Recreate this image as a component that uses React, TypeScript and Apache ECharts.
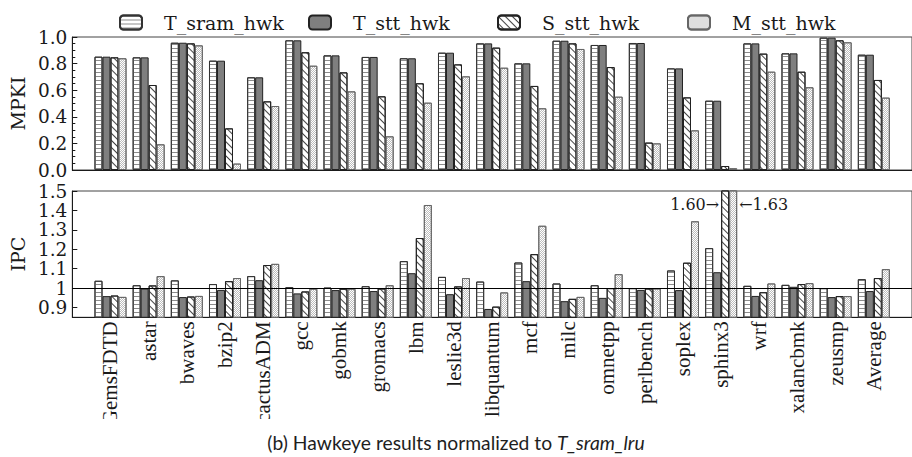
import React, { useEffect, useRef } from 'react';
import * as echarts from 'echarts';

// Benchmarks along the x axis (SPEC CPU2006 + average)
const benchmarks = [
  'GemsFDTD', 'astar', 'bwaves', 'bzip2', 'cactusADM', 'gcc', 'gobmk', 'gromacs', 'lbm', 'leslie3d',
  'libquantum', 'mcf', 'milc', 'omnetpp', 'perlbench', 'soplex', 'sphinx3', 'wrf', 'xalancbmk', 'zeusmp', 'Average',
];

const configNames = ['T_sram_hwk', 'T_stt_hwk', 'S_stt_hwk', 'M_stt_hwk'];

// MPKI normalized to T_sram_lru
const mpkiTSram = [0.852, 0.847, 0.957, 0.822, 0.697, 0.975, 0.862, 0.85, 0.84, 0.882, 0.952, 0.802, 0.972, 0.94, 0.955, 0.764, 0.521, 0.952, 0.877, 0.995, 0.867];
const mpkiTStt = [0.852, 0.847, 0.957, 0.822, 0.697, 0.975, 0.862, 0.85, 0.84, 0.882, 0.952, 0.802, 0.972, 0.94, 0.955, 0.764, 0.521, 0.952, 0.877, 0.995, 0.867];
const mpkiSStt = [0.847, 0.639, 0.952, 0.313, 0.516, 0.885, 0.734, 0.554, 0.652, 0.794, 0.92, 0.632, 0.952, 0.774, 0.206, 0.546, 0.03, 0.875, 0.739, 0.975, 0.677];
const mpkiMStt = [0.84, 0.193, 0.937, 0.048, 0.481, 0.784, 0.591, 0.253, 0.506, 0.704, 0.769, 0.464, 0.91, 0.551, 0.2, 0.298, 0.013, 0.739, 0.622, 0.96, 0.544];

// IPC normalized to T_sram_lru
const ipcTSram = [1.038, 1.015, 1.04, 1.021, 1.062, 1.005, 1.003, 1.01, 1.139, 1.058, 1.034, 1.132, 1.024, 1.015, 1.0, 1.091, 1.206, 1.012, 1.017, 1.0, 1.046];
const ipcTStt = [0.959, 0.998, 0.954, 0.991, 1.041, 0.973, 0.99, 0.985, 1.077, 0.969, 0.893, 1.036, 0.933, 0.95, 0.991, 0.99, 1.082, 0.96, 1.007, 0.954, 0.985];
const ipcSStt = [0.962, 1.014, 0.957, 1.036, 1.119, 0.983, 0.997, 0.998, 1.258, 1.009, 0.905, 1.175, 0.945, 1.0, 0.998, 1.131, 1.6, 0.979, 1.021, 0.959, 1.052];
const ipcMStt = [0.955, 1.062, 0.96, 1.052, 1.125, 0.997, 0.997, 1.015, 1.428, 1.052, 0.978, 1.321, 0.955, 1.072, 0.998, 1.344, 1.63, 1.024, 1.026, 0.959, 1.098];

// Axis ticks
const mpkiRange = [0, 1.0];
const ipcRange = [0.85, 1.5];
const ipcTicks = [0.9, 1.0, 1.1, 1.2, 1.3, 1.4, 1.5];
const ipcBaseline = 1.0;

const SERIF = 'DejaVu Serif';
const INK = '#1a1a1a';

// Fill styles for the four configurations
const barStyles: any[] = [
  {
    color: '#ffffff',
    borderColor: '#333',
    borderWidth: 1,
    decal: { symbol: 'rect', symbolSize: 1, dashArrayX: [1, 0], dashArrayY: [1, 3], color: '#8c8c8c', rotation: 0 },
  },
  { color: '#7f7f7f', borderColor: '#222', borderWidth: 1 },
  {
    color: '#ffffff',
    borderColor: '#222',
    borderWidth: 1,
    decal: { symbol: 'rect', symbolSize: 1, dashArrayX: [1, 0], dashArrayY: [1, 3.5], color: '#444', rotation: Math.PI / 4 },
  },
  {
    color: '#ffffff',
    borderColor: '#666',
    borderWidth: 1,
    decal: {
      symbol: 'rect',
      symbolSize: 1,
      dashArrayX: [[1, 1], [0, 1, 1, 0]],
      dashArrayY: [1, 0],
      color: '#bdbdbd',
      rotation: 0,
    },
  },
];

const legendLeft = [114, 303, 492, 682];

function buildOption() {
  const mpkiSets = [mpkiTSram, mpkiTStt, mpkiSStt, mpkiMStt];
  const ipcSets = [ipcTSram, ipcTStt, ipcSStt, ipcMStt];

  const xAxisBase = {
    type: 'value',
    min: -1,
    max: benchmarks.length,
    interval: 1,
    splitLine: { show: false },
    axisTick: { show: false },
    axisLine: { show: true, onZero: false, lineStyle: { color: INK, width: 1 } },
  };

  const yAxisBase = {
    type: 'value',
    nameLocation: 'middle',
    nameRotate: 90,
    nameGap: 35,
    nameTextStyle: { fontFamily: SERIF, fontSize: 19, color: INK },
    splitLine: { show: false },
    axisLine: { show: true, onZero: false, lineStyle: { color: INK, width: 1 } },
    axisTick: { show: true, inside: true, length: 5, lineStyle: { color: INK } },
    axisLabel: { fontFamily: SERIF, fontSize: 18.5, lineHeight: 17, color: INK, margin: 5 },
  };

  const series: any[] = [];
  configNames.forEach((name, k) => {
    series.push({
      name,
      type: 'bar',
      xAxisIndex: 0,
      yAxisIndex: 0,
      barWidth: 8,
      barGap: '0%',
      silent: true,
      itemStyle: barStyles[k],
      data: mpkiSets[k].map((v, i) => [i, v]),
    });
  });
  configNames.forEach((name, k) => {
    const s: any = {
      name,
      type: 'bar',
      xAxisIndex: 1,
      yAxisIndex: 1,
      barWidth: 8,
      barGap: '0%',
      silent: true,
      itemStyle: barStyles[k],
      data: ipcSets[k].map((v, i) => {
        if (v <= ipcRange[1]) return [i, v];
        // bars running off the top carry their value as an arrow label
        const leftSide = k === 2;
        return {
          value: [i, v],
          label: {
            show: true,
            position: leftSide ? [-2, 14] : [10, 14],
            align: leftSide ? 'right' : 'left',
            verticalAlign: 'middle',
            fontFamily: SERIF,
            fontSize: 16,
            color: INK,
            formatter: leftSide ? `${v.toFixed(2)}\u2192` : `\u2190${v.toFixed(2)}`,
          },
        };
      }),
    };
    if (k === 0) {
      s.markLine = {
        silent: true,
        symbol: 'none',
        label: { show: false },
        lineStyle: { color: '#000', width: 1.2, type: 'solid' },
        data: [{ yAxis: ipcBaseline }],
      };
    }
    series.push(s);
  });

  return {
    animation: false,
    backgroundColor: '#ffffff',
    title: {
      text: '(b) Hawkeye results normalized to {i|T_sram_lru}',
      left: 'center',
      top: 428,
      textStyle: {
        fontFamily: 'Lato',
        fontSize: 19.3,
        fontWeight: 'normal',
        color: '#1e1e1e',
        rich: { i: { fontFamily: 'Lato', fontSize: 19.3, fontStyle: 'italic', color: '#1e1e1e' } },
      },
    },
    legend: configNames.map((name, k) => ({
      data: [name],
      left: legendLeft[k],
      top: 8,
      itemWidth: 22,
      itemHeight: 14,
      selectedMode: false,
      textStyle: { fontFamily: SERIF, fontSize: 19, color: INK, padding: [0, 0, 0, 17] },
    })),
    grid: [
      { left: 72, top: 37, width: 866.8, height: 133, show: true, borderColor: '#444', borderWidth: 1, backgroundColor: 'transparent' },
      { left: 72, top: 191, width: 866.8, height: 126.3, show: true, borderColor: '#444', borderWidth: 1, backgroundColor: 'transparent' },
    ],
    xAxis: [
      { ...xAxisBase, gridIndex: 0, axisLabel: { show: false } },
      {
        ...xAxisBase,
        gridIndex: 1,
        axisLabel: {
          show: true,
          rotate: 90,
          margin: 4,
          fontFamily: 'Liberation Serif',
          fontSize: 21,
          color: INK,
          formatter: (v: number) => benchmarks[v] ?? '',
        },
      },
    ],
    yAxis: [
      {
        ...yAxisBase,
        gridIndex: 0,
        name: 'MPKI',
        min: mpkiRange[0],
        max: mpkiRange[1],
        interval: 0.2,
        minorTick: { show: true, splitNumber: 4, length: 3, lineStyle: { color: INK } },
        axisLabel: { ...yAxisBase.axisLabel, formatter: (v: number) => v.toFixed(1) },
      },
      {
        ...yAxisBase,
        gridIndex: 1,
        name: 'IPC',
        min: ipcRange[0],
        max: ipcRange[1],
        axisTick: { ...yAxisBase.axisTick, customValues: ipcTicks },
        axisLabel: {
          ...yAxisBase.axisLabel,
          customValues: ipcTicks,
          formatter: (v: number) => String(Math.round(v * 10) / 10),
        },
      },
    ],
    graphic: [
      // the figure's label strip ends just above the caption
      { type: 'rect', left: 60, top: 419, shape: { width: 860, height: 9 }, style: { fill: '#ffffff' }, z: 100, silent: true },
    ],
    series,
  };
}

export default function App() {
  const ref = useRef<HTMLDivElement>(null);
  useEffect(() => {
    if (!ref.current) return;
    const chart = echarts.init(ref.current, undefined, { renderer: 'svg' });
    chart.setOption(buildOption() as any);
    return () => chart.dispose();
  }, []);
  return (
    <div
      ref={ref}
      style={{ position: 'absolute', left: 0, top: 0, width: 912, height: 457, background: '#fff' }}
    />
  );
}
